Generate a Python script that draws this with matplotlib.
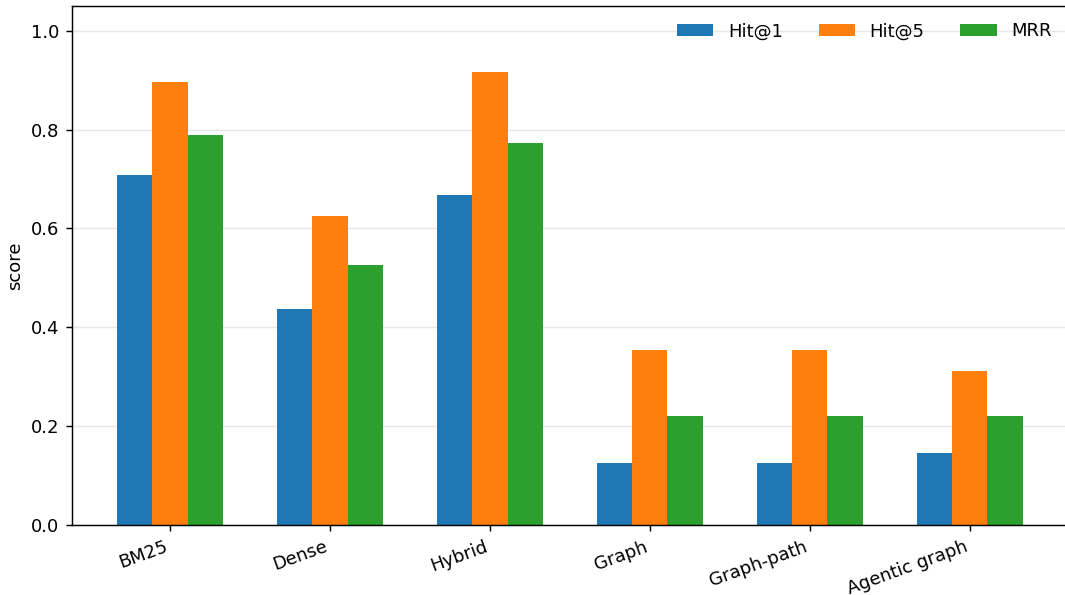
import numpy as np
import matplotlib
matplotlib.use("Agg")
import matplotlib.pyplot as plt

methods = ["BM25", "Dense", "Hybrid", "Graph", "Graph-path", "Agentic graph"]
hit1 = [0.708, 0.438, 0.667, 0.125, 0.125, 0.146]
hit5 = [0.896, 0.625, 0.917, 0.354, 0.354, 0.312]
mrr = [0.789, 0.527, 0.773, 0.221, 0.221, 0.221]

x = np.arange(len(methods))
w = 0.22

fig = plt.figure(figsize=(1065 / 130, 595 / 130), dpi=130)
ax = fig.add_axes([0.0676, 0.1176, 0.935, 0.8723])

ax.bar(x - w, hit1, w, label="Hit@1")
ax.bar(x, hit5, w, label="Hit@5")
ax.bar(x + w, mrr, w, label="MRR")

ax.set_ylim(0, 1.05)
ax.set_ylabel("score")
ax.set_xticks(x)
ax.set_xticklabels(methods, rotation=20, ha="right")
ax.grid(axis="y", alpha=0.3)
ax.set_axisbelow(True)
ax.legend(ncol=3, frameon=False, loc="upper right")

fig.savefig("out.png", dpi=130)
